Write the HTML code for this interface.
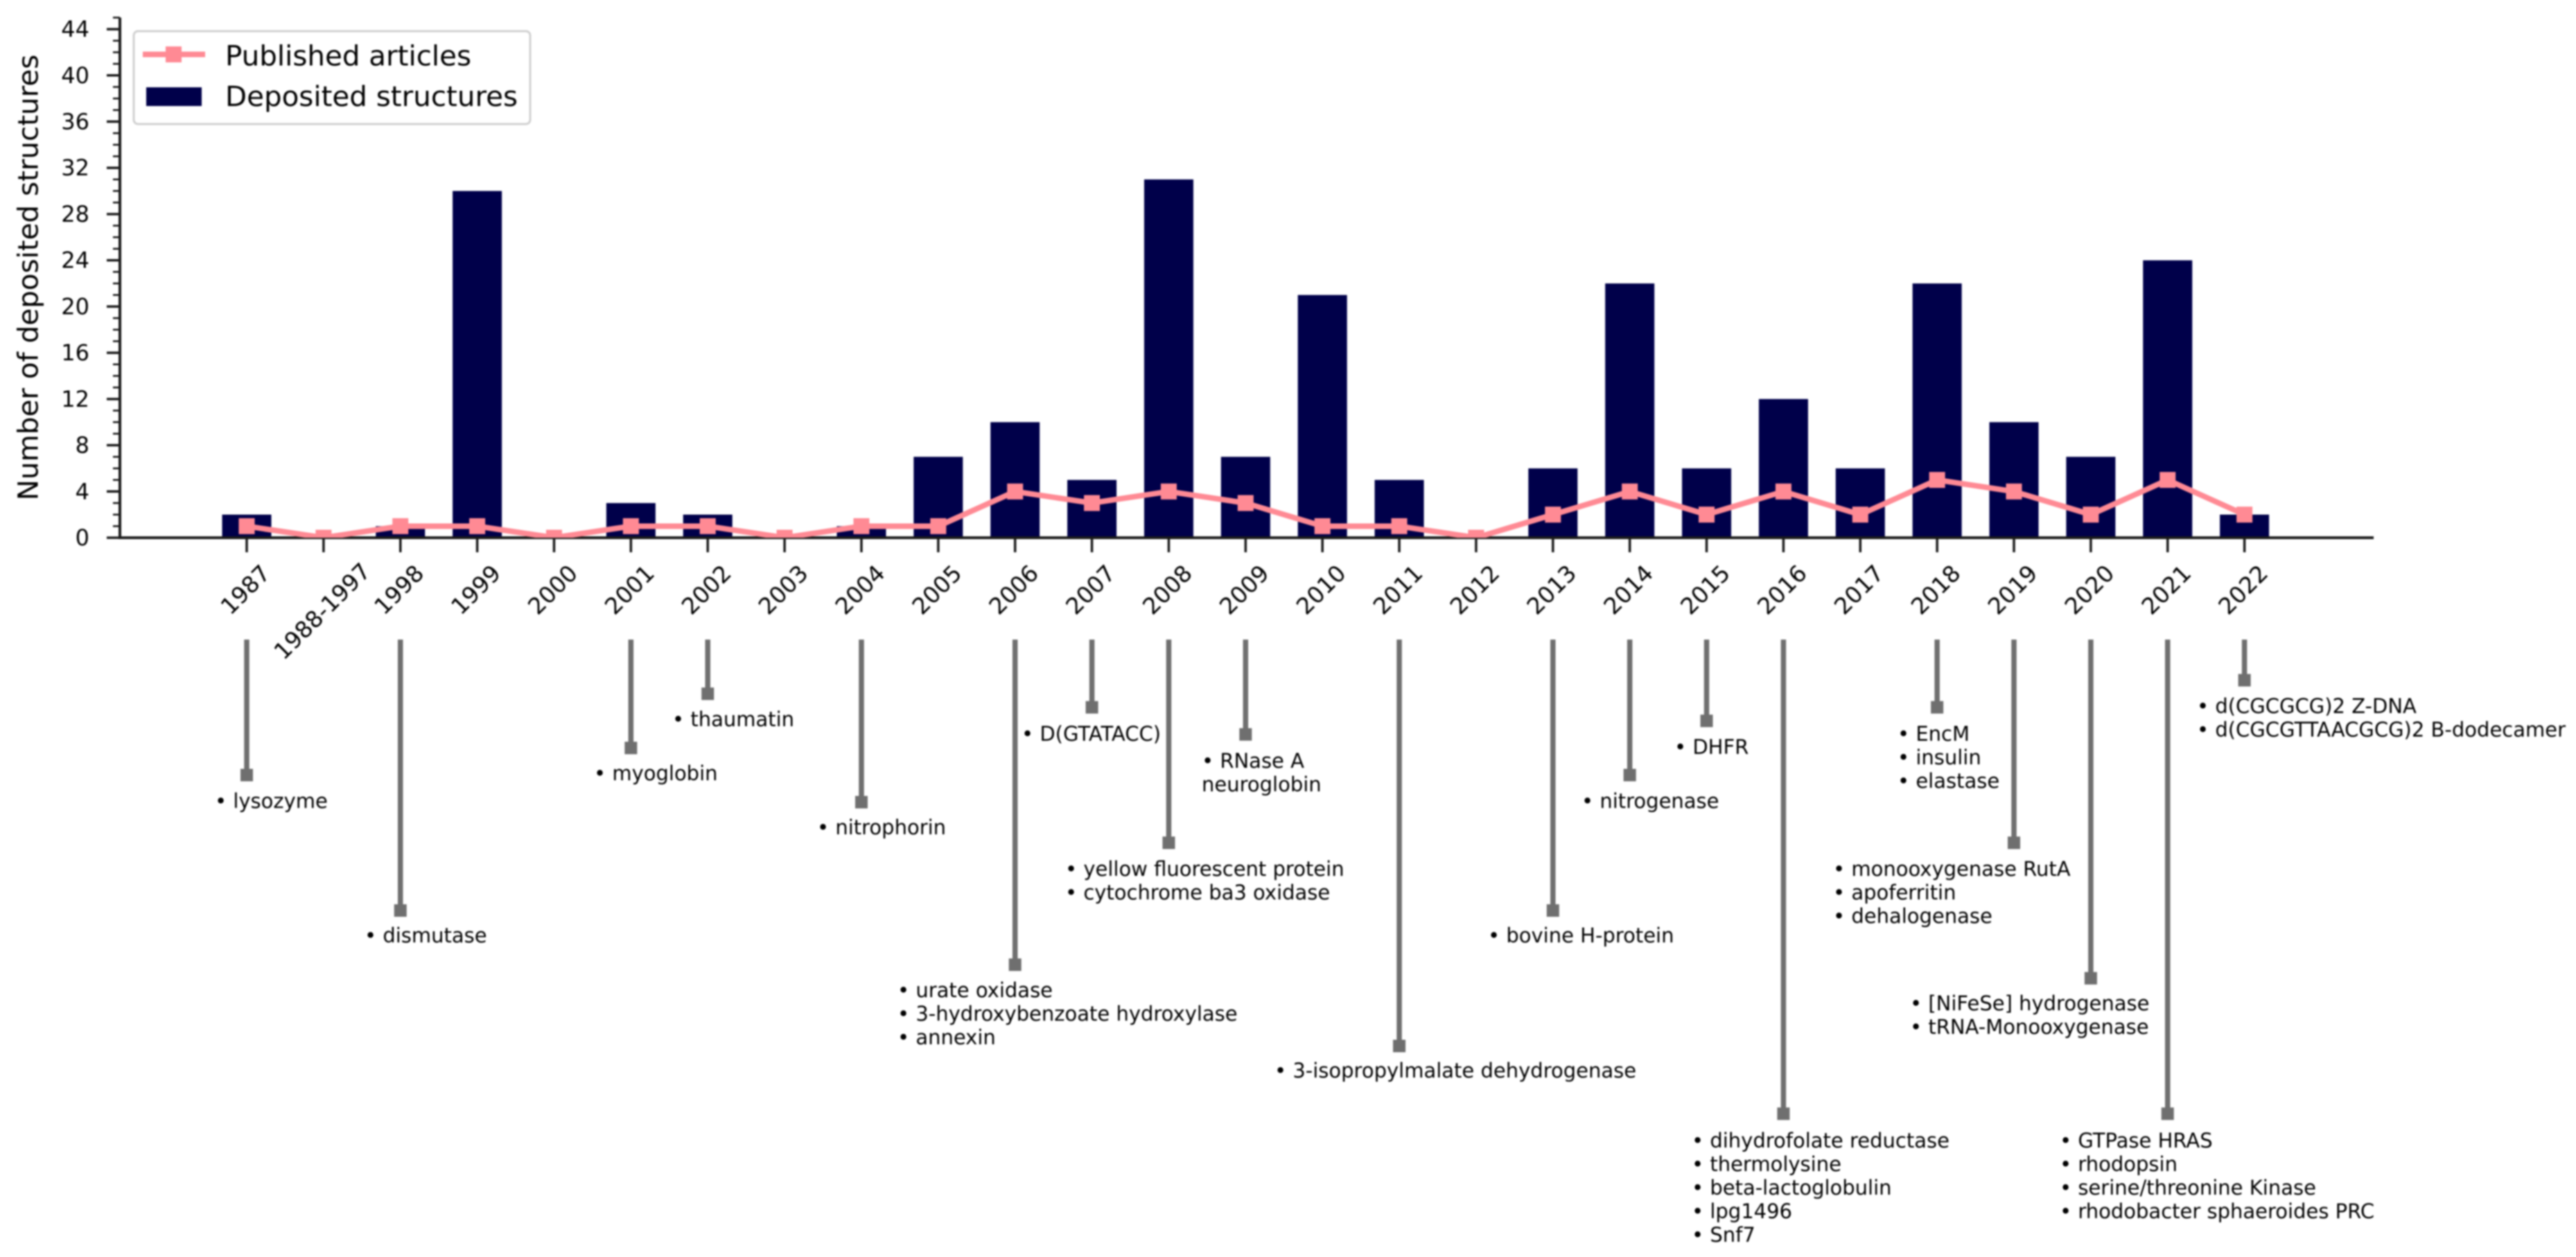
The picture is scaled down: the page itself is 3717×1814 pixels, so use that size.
<!DOCTYPE html>
<html lang="en">
<head>
<meta charset="utf-8">
<title>Deposited structures and published articles per year</title>
<style>
html,body{margin:0;padding:0;background:#fff;}
body{width:3717px;height:1814px;overflow:hidden;}
svg{display:block;filter:blur(1.1px);}
text{font-family:"DejaVu Sans","Liberation Sans",sans-serif;fill:#000;}
.note{font-size:29px;}
.tick{font-size:32px;}
.xtick{font-size:33px;}
.big{font-size:40.4px;}
</style>
</head>
<body>
<svg id="chart" xmlns="http://www.w3.org/2000/svg" width="3717" height="1814" viewBox="0 0 3717 1814">
  <defs>
    <clipPath id="plot-clip"><rect x="173" y="24" width="3252" height="752"/></clipPath>
  </defs>
  <rect x="0" y="0" width="3717" height="1814" fill="#ffffff"/>
  <g id="bars"></g>
  <g id="stems"></g>
  <g id="axes"></g>
  <g id="line" clip-path="url(#plot-clip)"></g>

  <text class="big" transform="translate(54.5,400.5) rotate(-90)" text-anchor="middle">Number of deposited structures</text>

  <g>
    <rect x="193" y="45" width="572" height="134" rx="6" fill="#fff" stroke="#d0d0d0" stroke-width="3"/>
    <line x1="206" y1="78.5" x2="296" y2="78.5" stroke="#ff8a94" stroke-width="8"/>
    <rect x="239" y="67" width="23" height="23" fill="#ff8a94"/>
    <text class="big" x="325" y="94.5">Published articles</text>
    <rect x="211" y="126" width="80" height="27" fill="#00004a"/>
    <text class="big" x="325" y="153">Deposited structures</text>
  </g>

  <g>
    <text class="note" x="310" y="1166">• lysozyme</text>
    <text class="note" x="526" y="1360">• dismutase</text>
    <text class="note" x="857" y="1126">• myoglobin</text>
    <text class="note" x="970" y="1048">• thaumatin</text>
    <text class="note" x="1179" y="1204">• nitrophorin</text>
    <g class="note">
      <text x="1295" y="1439">• urate oxidase</text>
      <text x="1295" y="1473">• 3-hydroxybenzoate hydroxylase</text>
      <text x="1295" y="1507">• annexin</text>
    </g>
    <text class="note" x="1474" y="1069">• D(GTATACC)</text>
    <g class="note">
      <text x="1537" y="1264">• yellow fluorescent protein</text>
      <text x="1537" y="1298">• cytochrome ba3 oxidase</text>
    </g>
    <g class="note">
      <text x="1734" y="1108">• RNase A</text>
      <text x="1734" y="1142">neuroglobin</text>
    </g>
    <text class="note" x="1839" y="1555">• 3-isopropylmalate dehydrogenase</text>
    <text class="note" x="2147" y="1360">• bovine H-protein</text>
    <text class="note" x="2282" y="1166">• nitrogenase</text>
    <text class="note" x="2416" y="1088">• DHFR</text>
    <g class="note">
      <text x="2441" y="1656">• dihydrofolate reductase</text>
      <text x="2441" y="1690">• thermolysine</text>
      <text x="2441" y="1724">• beta-lactoglobulin</text>
      <text x="2441" y="1758">• lpg1496</text>
      <text x="2441" y="1792">• Snf7</text>
    </g>
    <g class="note">
      <text x="2738" y="1069">• EncM</text>
      <text x="2738" y="1103">• insulin</text>
      <text x="2738" y="1137">• elastase</text>
    </g>
    <g class="note">
      <text x="2645" y="1264">• monooxygenase RutA</text>
      <text x="2645" y="1298">• apoferritin</text>
      <text x="2645" y="1332">• dehalogenase</text>
    </g>
    <g class="note">
      <text x="2756" y="1458">• [NiFeSe] hydrogenase</text>
      <text x="2756" y="1492">• tRNA-Monooxygenase</text>
    </g>
    <g class="note">
      <text x="2972" y="1656">• GTPase HRAS</text>
      <text x="2972" y="1690">• rhodopsin</text>
      <text x="2972" y="1724">• serine/threonine Kinase</text>
      <text x="2972" y="1758">• rhodobacter sphaeroides PRC</text>
    </g>
    <g class="note">
      <text x="3170" y="1029">• d(CGCGCG)2 Z-DNA</text>
      <text x="3170" y="1063">• d(CGCGTTAACGCG)2 B-dodecamer</text>
    </g>
  </g>
</svg>
<script>
var categories = ["1987","1988-1997","1998","1999","2000","2001","2002","2003","2004","2005","2006","2007","2008","2009","2010","2011","2012","2013","2014","2015","2016","2017","2018","2019","2020","2021","2022"];
var depositedStructures = [2,0,1,30,0,3,2,0,1,7,10,5,31,7,21,5,0,6,22,6,12,6,22,10,7,24,2];
var publishedArticles = [1,0,1,1,0,1,1,0,1,1,4,3,4,3,1,1,0,2,4,2,4,2,5,4,2,5,2];
var timelineLevels = [10,0,20,0,0,8,4,0,12,0,24,5,15,7,0,30,0,20,10,6,35,0,5,15,25,35,3];
var yTickLabels = [0,4,8,12,16,20,24,28,32,36,40,44];
var yMax = 45;

var SVGNS = "http://www.w3.org/2000/svg";
function xAxis(i){ return 356 + i * 110.87; }
function yAxis(v){ return 776 - v * 16.68; }
function levelY(l){ return 923 + l * 19.55; }
function make(tag, parentId){
  var el = document.createElementNS(SVGNS, tag);
  document.getElementById(parentId).appendChild(el);
  return el;
}
function seg(x1, y1, x2, y2, w, color, parentId){
  var l = make("line", parentId);
  l.setAttribute("x1", x1);
  l.setAttribute("y1", y1);
  l.setAttribute("x2", x2);
  l.setAttribute("y2", y2);
  l.setAttribute("stroke", color);
  l.setAttribute("stroke-width", w);
  return l;
}

categories.forEach(function(cat, i){
  var v = depositedStructures[i];
  if (v > 0) {
    var r = make("rect", "bars");
    r.setAttribute("x", xAxis(i) - 35.5);
    r.setAttribute("y", yAxis(v));
    r.setAttribute("width", 71);
    r.setAttribute("height", yAxis(0) - yAxis(v));
    r.setAttribute("fill", "#00004a");
    
    
  }
  var lvl = timelineLevels[i];
  if (lvl > 0) {
    var s = seg(xAxis(i), levelY(0), xAxis(i), levelY(lvl), 7.5, "#6f6f6f", "stems");
    
    
    var m = make("rect", "stems");
    m.setAttribute("x", xAxis(i) - 9);
    m.setAttribute("y", levelY(lvl) - 9);
    m.setAttribute("width", 18);
    m.setAttribute("height", 18);
    m.setAttribute("fill", "#6f6f6f");
    
    
  }
  var t = seg(xAxis(i), 776, xAxis(i), 797, 3.5, "#1a1a1a", "axes");
  
  
  var lab = make("text", "axes");
  lab.textContent = cat;
  lab.setAttribute("class", "xtick");
  lab.setAttribute("text-anchor", "middle");
  lab.setAttribute("dominant-baseline", "central");
  var cy = cat.length > 4 ? 882 : 851;
  lab.setAttribute("transform", "translate(" + (xAxis(i) - 2) + "," + cy + ") rotate(-45)");
  
  
});

for (var mv = 0; mv <= yMax; mv++) {
  var minor = seg(163, yAxis(mv), 173, yAxis(mv), 2.6, "#1a1a1a", "axes");
  
  
}
yTickLabels.forEach(function(v){
  var t = seg(154, yAxis(v), 173, yAxis(v), 3.5, "#1a1a1a", "axes");
  
  
  var lab = make("text", "axes");
  lab.textContent = v;
  lab.setAttribute("class", "tick");
  lab.setAttribute("text-anchor", "end");
  lab.setAttribute("dominant-baseline", "central");
  lab.setAttribute("x", 129);
  lab.setAttribute("y", yAxis(v));
  
  
});
var ySpine = seg(173, yAxis(yMax), 173, 778, 4, "#1a1a1a", "axes");


var xSpine = seg(171, 776, 3425, 776, 4, "#1a1a1a", "axes");



var pl = make("polyline", "line");
pl.setAttribute("points", publishedArticles.map(function(v, i){ return xAxis(i) + "," + yAxis(v); }).join(" "));
pl.setAttribute("fill", "none");
pl.setAttribute("stroke", "#ff8a94");
pl.setAttribute("stroke-width", 8);
pl.setAttribute("stroke-linejoin", "round");


publishedArticles.forEach(function(v, i){
  var p = make("rect", "line");
  p.setAttribute("x", xAxis(i) - 11.5);
  p.setAttribute("y", yAxis(v) - 11.5);
  p.setAttribute("width", 23);
  p.setAttribute("height", 23);
  p.setAttribute("fill", "#ff8a94");
  
  
});
</script>
</body>
</html>
